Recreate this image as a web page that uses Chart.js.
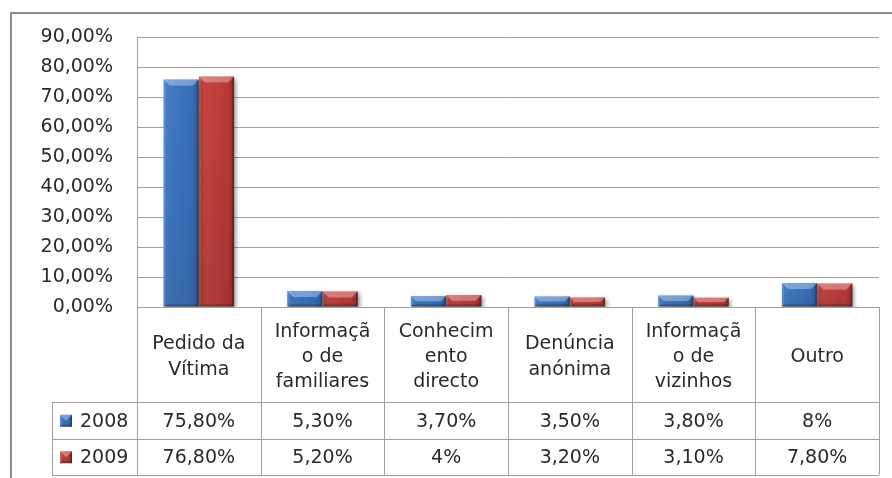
<!DOCTYPE html>
<html>
<head>
<meta charset="utf-8">
<script src="https://cdn.jsdelivr.net/npm/chart.js@4/dist/chart.umd.min.js"></script>
<style>
  html, body { margin: 0; padding: 0; background: #ffffff; }
  #wrap { position: relative; width: 892px; height: 478px; }
</style>
</head>
<body>
<div id="wrap"><canvas id="c" width="892" height="478"></canvas></div>
<script>
// Categories (wrapped as they appear in the table header)
const categories = [
  ["Pedido da", "Vítima"],
  ["Informaçã", "o de", "familiares"],
  ["Conhecim", "ento", "directo"],
  ["Denúncia", "anónima"],
  ["Informaçã", "o de", "vizinhos"],
  ["Outro"]
];
const seriesNames = ["2008", "2009"];
const values2008 = [75.8, 5.3, 3.7, 3.5, 3.8, 8];
const values2009 = [76.8, 5.2, 4, 3.2, 3.1, 7.8];
const yMin = 0, yMax = 90, yStep = 10;

const seriesColors = ["#3b74c2", "#c23d3a"];
const lineColor = "#a0a0a0";
const textColor = "#2a2a2a";
const FONT = "'DejaVu Sans', sans-serif";

const pct = v => (Number.isInteger(v) ? String(v) : v.toFixed(2).replace('.', ',')) + '%';
const axisPct = v => Number(v).toFixed(2).replace('.', ',') + '%';

Chart.defaults.font.family = FONT;
Chart.defaults.font.size = 19;
Chart.defaults.color = textColor;

function shade(ctx, l, t, r, b) {
  const w = r - l, h = b - t;
  if (w <= 0 || h <= 0) return;
  ctx.save();
  // soft horizontal shading across the bar face
  const g = ctx.createLinearGradient(l, 0, r, 0);
  g.addColorStop(0, 'rgba(255,255,255,0.10)');
  g.addColorStop(0.15, 'rgba(255,255,255,0.04)');
  g.addColorStop(0.8, 'rgba(0,0,0,0.04)');
  g.addColorStop(1, 'rgba(0,0,0,0.22)');
  ctx.fillStyle = g;
  ctx.fillRect(l, t, w, h);
  // slight darkening towards the base
  const gv = ctx.createLinearGradient(0, t, 0, b);
  gv.addColorStop(0, 'rgba(0,0,0,0)');
  gv.addColorStop(1, 'rgba(0,0,0,0.10)');
  ctx.fillStyle = gv;
  ctx.fillRect(l, t, w, h);
  const bv = Math.min(6, h / 2, w / 2);
  // top bevel (lighter)
  ctx.beginPath();
  ctx.moveTo(l, t); ctx.lineTo(r, t); ctx.lineTo(r - bv, t + bv); ctx.lineTo(l + bv, t + bv); ctx.closePath();
  ctx.fillStyle = 'rgba(255,255,255,0.32)';
  ctx.fill();
  // left bevel
  ctx.beginPath();
  ctx.moveTo(l, t); ctx.lineTo(l + 2, t + 2); ctx.lineTo(l + 2, b - 2); ctx.lineTo(l, b); ctx.closePath();
  ctx.fillStyle = 'rgba(255,255,255,0.12)';
  ctx.fill();
  // right bevel
  ctx.beginPath();
  ctx.moveTo(r, t); ctx.lineTo(r - 2, t + 2); ctx.lineTo(r - 2, b - 2); ctx.lineTo(r, b); ctx.closePath();
  ctx.fillStyle = 'rgba(0,0,0,0.25)';
  ctx.fill();
  // bottom bevel
  ctx.beginPath();
  ctx.moveTo(l, b); ctx.lineTo(r, b); ctx.lineTo(r - 2, b - 2); ctx.lineTo(l + 2, b - 2); ctx.closePath();
  ctx.fillStyle = 'rgba(0,0,0,0.25)';
  ctx.fill();
  ctx.restore();
}

// Outer frame, bar shadows and bevels
const decorPlugin = {
  id: 'decor',
  beforeDraw(chart) {
    const ctx = chart.ctx;
    ctx.save();
    ctx.strokeStyle = '#8c8c8c';
    ctx.lineWidth = 2;
    ctx.beginPath();
    ctx.moveTo(11, chart.height);
    ctx.lineTo(11, 13);
    ctx.lineTo(chart.width, 13);
    ctx.stroke();
    ctx.restore();
  },
  beforeDatasetsDraw(chart) {
    const ctx = chart.ctx;
    ctx.save();
    ctx.shadowColor = 'rgba(0,0,0,0.40)';
    ctx.shadowBlur = 4;
    ctx.shadowOffsetX = 2;
    ctx.shadowOffsetY = 2;
  },
  afterDatasetsDraw(chart) {
    const ctx = chart.ctx;
    ctx.restore();
    chart.data.datasets.forEach((ds, di) => {
      chart.getDatasetMeta(di).data.forEach(el => {
        const p = el.getProps(['x', 'y', 'base', 'width'], true);
        shade(ctx, p.x - p.width / 2, Math.min(p.y, p.base), p.x + p.width / 2, Math.max(p.y, p.base));
      });
    });
  }
};

// Data table below the category header
const tablePlugin = {
  id: 'dataTable',
  afterDraw(chart) {
    const ctx = chart.ctx;
    const xs = chart.scales.x;
    const area = chart.chartArea;
    const n = categories.length;
    const step = xs.getPixelForValue(1) - xs.getPixelForValue(0);
    const edges = [];
    for (let i = 0; i <= n; i++) edges.push(xs.getPixelForValue(0) - step / 2 + i * step);
    const headTop = area.bottom;
    const headBottom = xs.bottom;
    const rowH = 36.5;
    const rowsBottom = headBottom + rowH * seriesNames.length;
    const legendLeft = 52;

    ctx.save();
    ctx.strokeStyle = lineColor;
    ctx.lineWidth = 1;
    ctx.beginPath();
    // vertical cell borders
    for (let i = 0; i <= n; i++) {
      const x = Math.round(edges[i]) + 0.5;
      ctx.moveTo(x, headTop); ctx.lineTo(x, rowsBottom);
    }
    // legend column left border
    ctx.moveTo(legendLeft + 0.5, headBottom); ctx.lineTo(legendLeft + 0.5, rowsBottom);
    // horizontal row borders
    for (let r = 0; r <= seriesNames.length; r++) {
      const y = Math.round(headBottom + r * rowH) + 0.5;
      ctx.moveTo(legendLeft, y); ctx.lineTo(edges[n], y);
    }
    ctx.stroke();

    ctx.font = '19px ' + FONT;
    ctx.fillStyle = textColor;
    ctx.textBaseline = 'middle';
    const rows = [values2008, values2009];
    rows.forEach((vals, r) => {
      const cy = headBottom + r * rowH + rowH / 2 + 1.5;
      ctx.textAlign = 'center';
      vals.forEach((v, i) => {
        ctx.fillText(pct(v), (edges[i] + edges[i + 1]) / 2, cy);
      });
      // legend key
      const kx = legendLeft + 8, ky = cy - 7, ks = 12;
      ctx.fillStyle = seriesColors[r];
      ctx.fillRect(kx, ky, ks, ks);
      shade(ctx, kx, ky, kx + ks, ky + ks);
      ctx.fillStyle = textColor;
      ctx.textAlign = 'left';
      ctx.fillText(seriesNames[r], legendLeft + 28, cy);
    });
    ctx.restore();
  }
};

new Chart(document.getElementById('c'), {
  type: 'bar',
  data: {
    labels: categories,
    datasets: [
      { label: seriesNames[0], data: values2008, backgroundColor: seriesColors[0] },
      { label: seriesNames[1], data: values2009, backgroundColor: seriesColors[1] }
    ]
  },
  options: {
    responsive: false,
    animation: false,
    events: [],
    categoryPercentage: 0.57,
    barPercentage: 1.0,
    layout: { padding: { left: 0, top: 37, right: 13, bottom: 76 } },
    plugins: { legend: { display: false }, tooltip: { enabled: false } },
    scales: {
      x: {
        grid: { display: false },
        border: { display: true, color: lineColor, width: 1 },
        ticks: {
          autoSkip: false, maxRotation: 0, minRotation: 0,
          crossAlign: 'center', padding: 17,
          font: { size: 19, lineHeight: 1.32 }, color: textColor
        },
        afterFit(scale) { scale.height = 95; }
      },
      y: {
        min: yMin, max: yMax,
        grid: { color: lineColor, drawTicks: false, lineWidth: 1 },
        border: { display: true, color: lineColor, width: 1 },
        ticks: {
          stepSize: yStep, padding: 24, color: textColor,
          font: { size: 19 },
          callback: v => axisPct(v)
        },
        afterFit(scale) { scale.width = 137; }
      }
    }
  },
  plugins: [decorPlugin, tablePlugin]
});
</script>
</body>
</html>
